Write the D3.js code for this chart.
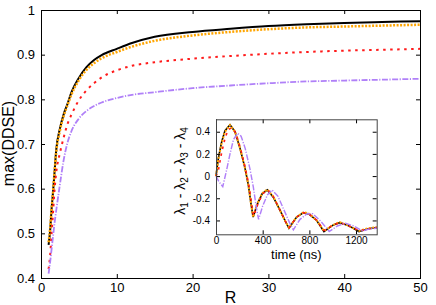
<!DOCTYPE html>
<html>
<head>
<meta charset="utf-8">
<script src="https://cdn.jsdelivr.net/npm/d3@7"></script>
<style>
  body { margin: 0; background: #fff; }
  svg { display: block; font-family: "Liberation Sans", Arial, sans-serif; }
</style>
</head>
<body>
<svg width="436" height="305"></svg>
<script>
'use strict'

// main panel: max(DDSE) vs R
const R_VALUES = [1, 1.2, 1.4, 1.6, 1.8, 2, 2.5, 3, 3.5, 4, 5, 6, 7, 8, 10, 12, 15, 20, 25, 30, 35, 40, 45, 50];
const BLACK_MAX = [0.474, 0.505, 0.555, 0.595, 0.64, 0.685, 0.735, 0.767, 0.79, 0.815, 0.848, 0.872, 0.888, 0.899, 0.913, 0.926, 0.940, 0.951, 0.958, 0.964, 0.968, 0.971, 0.973, 0.975];
const ORANGE_MAX = [0.48, 0.51, 0.555, 0.595, 0.64, 0.68, 0.73, 0.763, 0.787, 0.81, 0.843, 0.866, 0.881, 0.892, 0.906, 0.918, 0.931, 0.943, 0.951, 0.957, 0.961, 0.963, 0.965, 0.967];
const RED_MAX = [0.42, 0.45, 0.50, 0.55, 0.60, 0.635, 0.68, 0.715, 0.745, 0.765, 0.798, 0.82, 0.836, 0.849, 0.865, 0.875, 0.883, 0.891, 0.897, 0.902, 0.906, 0.909, 0.911, 0.913];
const PURPLE_MAX = [0.41, 0.435, 0.465, 0.495, 0.525, 0.55, 0.61, 0.665, 0.703, 0.728, 0.757, 0.774, 0.785, 0.793, 0.803, 0.81, 0.816, 0.825, 0.831, 0.836, 0.840, 0.842, 0.844, 0.846];

const X_TICKS = [0, 10, 20, 30, 40, 50];
const Y_TICKS = [0.4, 0.5, 0.6, 0.7, 0.8, 0.9, 1];

// inset: lambda1 - lambda2 - lambda3 - lambda4 vs time (ns), [t, value]
const INSET_BLACK = [[0, 0], [20, 0.16], [49, 0.31], [77, 0.41], [120, 0.463], [163, 0.40], [206, 0.25], [249, 0.07], [277, -0.08], [300, -0.25], [318, -0.37], [355, -0.25], [395, -0.16], [440, -0.125], [491, -0.19], [549, -0.31], [600, -0.42], [625, -0.47], [691, -0.37], [750, -0.33], [800, -0.345], [863, -0.40], [925, -0.50], [1005, -0.44], [1060, -0.42], [1120, -0.44], [1177, -0.47], [1225, -0.50], [1305, -0.475], [1377, -0.465]];
const INSET_ORANGE = [[0, 0], [20, 0.15], [49, 0.30], [77, 0.40], [120, 0.46], [163, 0.40], [206, 0.25], [249, 0.07], [277, -0.08], [300, -0.25], [318, -0.37], [355, -0.25], [395, -0.155], [440, -0.12], [491, -0.185], [549, -0.31], [600, -0.42], [625, -0.465], [691, -0.37], [750, -0.325], [800, -0.34], [863, -0.40], [925, -0.495], [1005, -0.44], [1060, -0.415], [1120, -0.44], [1177, -0.47], [1225, -0.495], [1305, -0.47], [1377, -0.46]];
const INSET_RED = [[0, 0], [20, 0.05], [50, 0.22], [80, 0.35], [105, 0.42], [135, 0.435], [170, 0.39], [210, 0.25], [250, 0.08], [280, -0.07], [305, -0.24], [322, -0.36], [360, -0.25], [400, -0.16], [445, -0.125], [495, -0.19], [550, -0.31], [600, -0.42], [628, -0.465], [690, -0.37], [750, -0.33], [800, -0.345], [865, -0.40], [925, -0.49], [1005, -0.44], [1060, -0.42], [1120, -0.44], [1180, -0.47], [1228, -0.495], [1305, -0.475], [1377, -0.465]];
const INSET_PURPLE = [[0, 0], [25, -0.05], [58, -0.095], [90, 0.05], [120, 0.2], [150, 0.33], [185, 0.385], [215, 0.36], [250, 0.25], [290, 0.07], [320, -0.10], [345, -0.28], [365, -0.39], [400, -0.27], [440, -0.17], [480, -0.125], [530, -0.18], [580, -0.30], [630, -0.42], [663, -0.485], [720, -0.39], [780, -0.34], [830, -0.34], [900, -0.41], [970, -0.50], [1040, -0.45], [1110, -0.425], [1180, -0.45], [1255, -0.495], [1320, -0.475], [1377, -0.47]];

const INSET_X_TICKS = [0, 400, 800, 1200];
const INSET_Y_TICKS = [-0.4, -0.2, 0, 0.2, 0.4];

const svg = d3.select('svg');

const styles = {
  black: { color: '#000', width: 2, dash: null },
  orange: { color: '#ffa500', width: 2.5, dash: '2,1.5' },
  red: { color: '#ff1a1a', width: 2, dash: '2.5,4.5' },
  purple: { color: '#b080f8', width: 1.8, dash: '6,1.5,1.2,1.5' }
};

// ---------- main panel ----------
const x = d3.scaleLinear().domain([0, 50]).range([41, 420]);
const y = d3.scaleLinear().domain([0.4, 1]).range([278, 10]);

const main = svg.append('g');

const mainSeries = [
  { key: 'black', values: BLACK_MAX },
  { key: 'orange', values: ORANGE_MAX },
  { key: 'red', values: RED_MAX },
  { key: 'purple', values: PURPLE_MAX }
];

const mainLine = d3.line()
  .x(d => x(d[0]))
  .y(d => y(d[1]))
  .curve(d3.curveMonotoneX);

main.selectAll('path.series')
  .data(mainSeries)
  .join('path')
  .attr('class', 'series')
  .attr('d', s => mainLine(R_VALUES.map((r, i) => [r, s.values[i]])))
  .attr('fill', 'none')
  .attr('stroke', s => styles[s.key].color)
  .attr('stroke-width', s => styles[s.key].width)
  .attr('stroke-dasharray', s => styles[s.key].dash);

function styleAxis(g, size) {
  g.select('.domain').remove();
  g.selectAll('line').attr('stroke', '#000');
  g.selectAll('text').attr('font-size', size).attr('font-family', '"Liberation Sans", Arial, sans-serif').attr('fill', '#000');
}

main.append('g')
  .attr('transform', `translate(0,${y(0.4)})`)
  .call(d3.axisBottom(x).tickValues(X_TICKS).tickSize(-4).tickPadding(5).tickFormat(d3.format('d')))
  .call(g => styleAxis(g, 13));
main.append('g')
  .attr('transform', `translate(0,${y(1)})`)
  .call(d3.axisTop(x).tickValues(X_TICKS).tickSize(-4).tickFormat(''))
  .call(g => styleAxis(g, 13));
main.append('g')
  .attr('transform', `translate(${x(0)},0)`)
  .call(d3.axisLeft(y).tickValues(Y_TICKS).tickSize(-4).tickPadding(6).tickFormat(d => d === 1 ? '1' : d.toFixed(1)))
  .call(g => styleAxis(g, 13));
main.append('g')
  .attr('transform', `translate(${x(50)},0)`)
  .call(d3.axisRight(y).tickValues(Y_TICKS).tickSize(-4).tickFormat(''))
  .call(g => styleAxis(g, 13));

main.append('rect')
  .attr('x', x(0) + 0.5)
  .attr('y', y(1) + 0.5)
  .attr('width', x(50) - x(0))
  .attr('height', y(0.4) - y(1))
  .attr('fill', 'none')
  .attr('stroke', '#000')
  .attr('stroke-width', 1);

main.append('text')
  .attr('x', (x(0) + x(50)) / 2)
  .attr('y', 303)
  .attr('text-anchor', 'middle')
  .attr('font-size', 16)
  .text('R');

main.append('text')
  .attr('transform', 'translate(14,143.5) rotate(-90)')
  .attr('text-anchor', 'middle')
  .attr('font-size', 16)
  .text('max(DDSE)');

// ---------- inset ----------
const ix = d3.scaleLinear().domain([0, 1377]).range([216, 376.7]);
const iy = d3.scaleLinear().domain([-0.525, 0.512]).range([234.3, 119.3]);

const inset = svg.append('g');

inset.append('rect')
  .attr('x', ix(0))
  .attr('y', iy(0.512))
  .attr('width', ix(1377) - ix(0))
  .attr('height', iy(-0.525) - iy(0.512))
  .attr('fill', '#fff');

const insetSeries = [
  { key: 'black', values: INSET_BLACK },
  { key: 'orange', values: INSET_ORANGE },
  { key: 'red', values: INSET_RED },
  { key: 'purple', values: INSET_PURPLE }
];

const insetLine = d3.line()
  .x(d => ix(d[0]))
  .y(d => iy(d[1]));

inset.selectAll('path.series')
  .data(insetSeries)
  .join('path')
  .attr('class', 'series')
  .attr('d', s => insetLine(s.values))
  .attr('fill', 'none')
  .attr('stroke', s => styles[s.key].color)
  .attr('stroke-width', s => styles[s.key].width * 0.8)
  .attr('stroke-dasharray', s => styles[s.key].dash);

inset.append('g')
  .attr('transform', `translate(0,${iy(-0.525)})`)
  .call(d3.axisBottom(ix).tickValues(INSET_X_TICKS).tickSize(-4).tickPadding(3).tickFormat(d3.format('d')))
  .call(g => styleAxis(g, 10));
inset.append('g')
  .attr('transform', `translate(0,${iy(0.512)})`)
  .call(d3.axisTop(ix).tickValues(INSET_X_TICKS).tickSize(-4).tickFormat(''))
  .call(g => styleAxis(g, 10));
inset.append('g')
  .attr('transform', `translate(${ix(0)},0)`)
  .call(d3.axisLeft(iy).tickValues(INSET_Y_TICKS).tickSize(-4).tickPadding(6).tickFormat(d => d === 0 ? '0' : d.toFixed(1)))
  .call(g => styleAxis(g, 10));
inset.append('g')
  .attr('transform', `translate(${ix(1377)},0)`)
  .call(d3.axisRight(iy).tickValues(INSET_Y_TICKS).tickSize(-4).tickFormat(''))
  .call(g => styleAxis(g, 10));

inset.append('rect')
  .attr('x', ix(0) + 0.5)
  .attr('y', iy(0.512) + 0.5)
  .attr('width', ix(1377) - ix(0))
  .attr('height', iy(-0.525) - iy(0.512))
  .attr('fill', 'none')
  .attr('stroke', '#444')
  .attr('stroke-width', 1);

inset.append('text')
  .attr('x', (ix(0) + ix(1377)) / 2)
  .attr('y', 259)
  .attr('text-anchor', 'middle')
  .attr('font-size', 13)
  .text('time (ns)');

const ylab = inset.append('text')
  .attr('transform', 'translate(185,171) rotate(-90)')
  .attr('text-anchor', 'middle')
  .attr('font-size', 14);
['1', '2', '3', '4'].forEach((n, i) => {
  ylab.append('tspan').attr('dy', i === 0 ? 0 : -3).text((i === 0 ? '' : ' - ') + 'λ');
  ylab.append('tspan').attr('dy', 3).attr('font-size', 10).text(n);
});
</script>
</body>
</html>
